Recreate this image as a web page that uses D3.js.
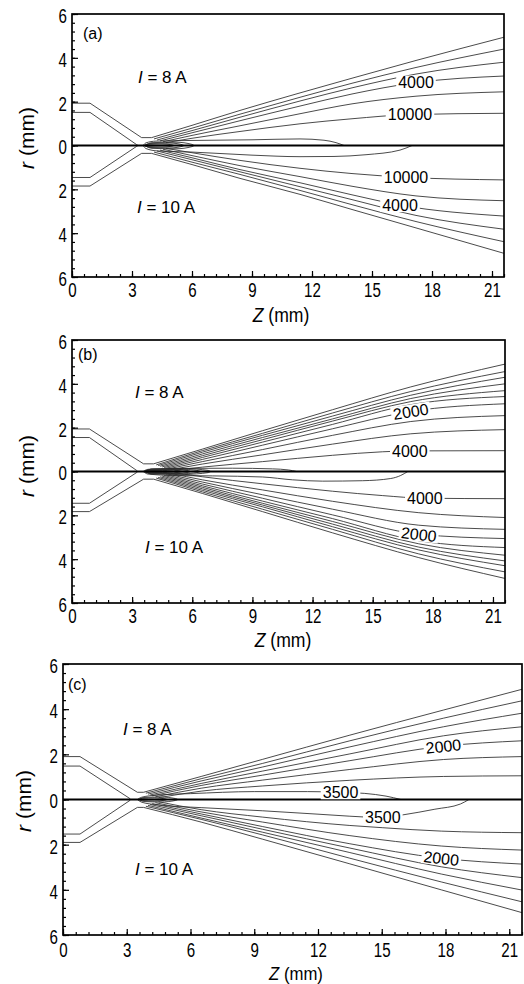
<!DOCTYPE html>
<html><head><meta charset="utf-8">
<script src="https://cdn.jsdelivr.net/npm/d3@7"></script>
<style>
body{margin:0;background:#fff}
svg{display:block}
text{font-family:"Liberation Sans",Arial,Helvetica,sans-serif;fill:#000}
</style>
</head><body>
<svg id="chart" width="524" height="984"></svg>
<script>
// ---------- axis ticks ----------
const zTicks = [0,3,6,9,12,15,18,21];
const rTicks = [-6,-4,-2,0,2,4,6];
const zMinor = d3.range(0, 21.601, 0.6);
const rMinor = d3.range(-6, 6.001, 0.4);
const zDomain = [0, 21.6];
const rDomain = [-6, 6];
const panelTags = ['(a)','(b)','(c)'];
const upperCurrent = '8 A';
const lowerCurrent = '10 A';

// ---------- panel (a) : [Z mm, r mm] ----------
const aNozzleUpper = [
  [[0,1.93],[0.9,1.93],[3.48,0.36],[3.98,0.36]],
  [[0,1.51],[0.9,1.51],[3.23,0.04],[3.3,0]]
];
const aNozzleLower = [
  [[0,1.85],[0.9,1.85],[3.48,0.36],[3.98,0.36]],
  [[0,1.46],[0.9,1.46],[3.23,0.04],[3.3,0]]
];
const aUpper = [
  [[3.98,0.36],[6,0.92],[8.4,1.6],[11.4,2.4],[14,3.07],[17.2,3.88],[21.6,4.94]],
  [[4.1,0.3],[6,0.79],[8.4,1.43],[11.4,2.2],[14,2.84],[17.2,3.56],[21.6,4.40]],
  [[4.25,0.25],[6,0.68],[8.4,1.29],[11.4,2.03],[14,2.63],[17.2,3.26],[21.6,3.80]],
  [[4.4,0.21],[6,0.58],[8.4,1.13],[11.4,1.8],[14,2.35],[17.2,2.87],[21.6,3.17]],
  [[4.55,0.17],[6,0.46],[8.4,0.9],[11.4,1.45],[14,1.9],[17.2,2.25],[21.6,2.45]],
  [[4.7,0.13],[6,0.33],[8.4,0.64],[11.4,0.99],[14,1.22],[16.9,1.41],[21.6,1.47]]
];
const aLower = [
  [[3.98,0.36],[6,0.87],[8.4,1.5],[11.4,2.23],[14,2.92],[17.2,3.76],[21.6,4.92]],
  [[4.1,0.3],[6,0.76],[8.4,1.32],[11.4,2.05],[14,2.7],[17.2,3.47],[21.6,4.39]],
  [[4.25,0.25],[6,0.65],[8.4,1.2],[11.4,1.88],[14,2.47],[17.2,3.19],[21.6,3.82]],
  [[4.4,0.21],[6,0.56],[8.4,1.1],[11.4,1.7],[14,2.25],[16.4,2.72],[21.6,3.22]],
  [[4.55,0.17],[6,0.46],[8.4,0.92],[11.4,1.42],[14,1.86],[17.2,2.3],[21.6,2.52]],
  [[4.7,0.13],[6,0.33],[8.4,0.68],[11.4,1.04],[14,1.28],[16.7,1.45],[21.6,1.57]]
];
const aUpperLoops = [
  [[3.55,0],[3.7,0.12],[4.2,0.2],[6,0.23],[9,0.26],[11.4,0.3],[12.6,0.24],[13.2,0.13],[13.6,0]]
];
const aLowerLoops = [
  [[3.55,0],[3.7,0.14],[4.3,0.25],[6,0.3],[9,0.44],[11.4,0.51],[13.1,0.5],[14.7,0.42],[16.4,0.21],[17.0,0]]
];
const aTipLoops = [
  [[3.6,0],[3.8,0.05],[4.5,0.07],[5.0,0.03],[5.1,0]],
  [[3.62,0],[3.9,0.09],[4.9,0.11],[5.5,0.04],[5.6,0]],
  [[3.65,0],[4.0,0.13],[5.2,0.15],[6.0,0.05],[6.1,0]]
];
// [half, set, index, Z, text, follow line slope]
const aLabels = [
  ['u','fan',3,17.2,'4000',0],
  ['u','fan',5,16.9,'10000',0],
  ['l','fan',3,16.4,'4000',0],
  ['l','fan',5,16.7,'10000',0]
];

// ---------- panel (b) ----------
const bNozzleUpper = [
  [[0,1.94],[0.87,1.94],[3.57,0.35],[4.07,0.35]],
  [[0,1.55],[0.87,1.55],[3.22,0.05],[3.28,0]]
];
const bNozzleLower = [
  [[0,1.83],[0.87,1.83],[3.57,0.35],[4.07,0.35]],
  [[0,1.45],[0.87,1.45],[3.22,0.05],[3.28,0]]
];
const bUpper = [
  [[4.07,0.35],[6.5,1.02],[9.5,1.86],[13,2.82],[16.9,3.86],[21.6,4.90]],
  [[4.2,0.3],[6.5,0.95],[9.5,1.74],[13,2.67],[16.9,3.65],[21.6,4.56]],
  [[4.3,0.27],[6.5,0.88],[9.5,1.65],[13,2.53],[16.9,3.48],[21.6,4.30]],
  [[4.4,0.24],[6.5,0.8],[9.5,1.55],[13,2.4],[16.9,3.33],[21.6,4.0]],
  [[4.5,0.21],[6.5,0.72],[9.5,1.45],[13,2.3],[16.9,3.19],[21.6,3.69]],
  [[4.6,0.18],[6.5,0.64],[9.5,1.34],[13,2.15],[16.9,3.05],[21.6,3.42]],
  [[4.7,0.15],[6.5,0.55],[9.5,1.2],[13,1.95],[16.9,2.74],[21.6,3.09]],
  [[4.8,0.12],[6.5,0.45],[9.5,1.0],[13,1.65],[16.9,2.28],[21.6,2.55]],
  [[4.95,0.09],[6.5,0.34],[9.5,0.76],[13,1.25],[16.9,1.72],[21.6,1.91]],
  [[5.1,0.06],[6.5,0.2],[9.5,0.45],[13,0.74],[15.5,0.9],[16.9,0.94],[21.6,0.95]]
];
const bLower = [
  [[4.07,0.35],[6.5,1.0],[9.5,1.83],[13,2.8],[17.3,3.93],[21.6,4.88]],
  [[4.2,0.3],[6.5,0.93],[9.5,1.72],[13,2.64],[17.3,3.76],[21.6,4.58]],
  [[4.3,0.27],[6.5,0.86],[9.5,1.61],[13,2.52],[17.3,3.58],[21.6,4.30]],
  [[4.4,0.24],[6.5,0.79],[9.5,1.53],[13,2.4],[17.3,3.45],[21.6,4.08]],
  [[4.5,0.21],[6.5,0.72],[9.5,1.45],[13,2.28],[17.3,3.3],[21.6,3.82]],
  [[4.6,0.18],[6.5,0.65],[9.5,1.35],[13,2.15],[17.3,3.16],[21.6,3.47]],
  [[4.7,0.15],[6.5,0.57],[9.5,1.22],[13,1.98],[17.3,2.86],[21.6,3.06]],
  [[4.8,0.12],[6.5,0.48],[9.5,1.06],[13,1.72],[17.3,2.45],[21.6,2.64]],
  [[4.95,0.09],[6.5,0.38],[9.5,0.84],[13,1.36],[17.3,1.88],[21.6,2.10]],
  [[5.1,0.06],[6.5,0.24],[9.5,0.56],[13,0.9],[15.5,1.1],[17.6,1.22],[21.6,1.24]]
];
const bUpperLoops = [
  [[3.55,0],[3.8,0.1],[5,0.14],[8,0.15],[10,0.12],[10.8,0.07],[11.2,0]]
];
const bLowerLoops = [
  [[3.55,0],[3.8,0.12],[5,0.18],[7,0.2],[9.5,0.25],[11,0.38],[12.5,0.44],[14.5,0.42],[15.9,0.32],[16.4,0.18],[16.75,0]]
];
const bTipLoops = [
  [[3.58,0],[3.8,0.04],[4.5,0.05],[5.0,0.02],[5.1,0]],
  [[3.6,0],[3.85,0.06],[4.8,0.07],[5.4,0.03],[5.5,0]],
  [[3.62,0],[3.9,0.08],[5.0,0.09],[5.8,0.04],[5.9,0]],
  [[3.64,0],[3.95,0.1],[5.3,0.11],[6.3,0.04],[6.4,0]],
  [[3.66,0],[4.0,0.12],[5.6,0.13],[6.8,0.05],[6.9,0]]
];
const bLabels = [
  ['u','fan',6,16.9,'2000',1],
  ['u','fan',9,16.85,'4000',0],
  ['l','fan',6,17.3,'2000',1],
  ['l','fan',9,17.6,'4000',0]
];

// ---------- panel (c) ----------
const cNozzleUpper = [
  [[0,1.9],[0.8,1.9],[3.5,0.32],[3.79,0.32]],
  [[0,1.48],[0.8,1.48],[3.15,0.04],[3.19,0]]
];
const cNozzleLower = [
  [[0,1.9],[0.8,1.9],[3.5,0.35],[3.79,0.35]],
  [[0,1.53],[0.8,1.53],[3.15,0.04],[3.19,0]]
];
const cUpper = [
  [[3.79,0.32],[6.5,1.02],[9.4,1.78],[13.5,2.85],[17.9,3.96],[21.6,4.88]],
  [[3.9,0.28],[6.5,0.92],[9.4,1.6],[13.5,2.6],[17.9,3.6],[21.6,4.37]],
  [[4.0,0.24],[6.5,0.82],[9.4,1.44],[13.5,2.33],[17.9,3.22],[21.6,3.82]],
  [[4.1,0.2],[6.5,0.71],[9.4,1.26],[13.5,2.02],[17.9,2.82],[21.6,3.22]],
  [[4.2,0.16],[6.5,0.62],[9.4,1.08],[13.5,1.72],[17.9,2.36],[21.6,2.60]],
  [[4.35,0.12],[6.5,0.5],[9.4,0.86],[13.5,1.33],[17.9,1.77],[21.6,1.90]],
  [[4.5,0.08],[6.5,0.37],[9.4,0.6],[13.5,0.85],[17.9,1.02],[21.6,1.05]]
];
const cLower = [
  [[3.79,0.35],[6.5,1.0],[9.4,1.76],[13.5,2.85],[17.8,4.0],[21.6,5.01]],
  [[3.9,0.3],[6.5,0.88],[9.4,1.57],[13.5,2.6],[17.8,3.65],[21.6,4.53]],
  [[4.0,0.26],[6.5,0.82],[9.4,1.45],[13.5,2.35],[17.8,3.3],[21.6,4.01]],
  [[4.1,0.22],[6.5,0.72],[9.4,1.32],[13.5,2.15],[17.8,2.98],[21.6,3.46]],
  [[4.2,0.18],[6.5,0.64],[9.4,1.2],[13.5,1.96],[17.8,2.60],[21.6,2.86]],
  [[4.35,0.14],[6.5,0.55],[9.4,1.0],[13.5,1.6],[17.8,2.06],[21.6,2.24]],
  [[4.5,0.1],[6.5,0.45],[9.4,0.78],[13.5,1.15],[15.05,1.25],[17.8,1.4],[21.6,1.47]]
];
const cUpperLoops = [
  [[3.5,0],[3.7,0.1],[4.5,0.2],[6,0.26],[9,0.35],[11.5,0.35],[13.06,0.32],[14.2,0.27],[15.2,0.15],[15.9,0]]
];
const cLowerLoops = [
  [[3.5,0],[3.7,0.12],[4.5,0.24],[6.5,0.36],[9.4,0.5],[12,0.65],[13.5,0.74],[15.05,0.8],[16,0.68],[17.5,0.43],[18.7,0.2],[19.1,0]]
];
const cTipLoops = [
  [[3.55,0],[3.75,0.05],[4.3,0.07],[4.8,0.03],[4.9,0]],
  [[3.58,0],[3.8,0.09],[4.6,0.11],[5.3,0.04],[5.4,0]]
];
const cLabels = [
  ['u','fan',4,17.9,'2000',1],
  ['u','loop',0,13.06,'3500',0],
  ['l','loop',0,15.05,'3500',0],
  ['l','fan',4,17.8,'2000',1]
];

// ---------- layout (pixels) ----------
const layout = [
  {x0:72, x1:504, y0:14,  y1:277, pad:5, titleX:281, titleY:322, rX:34, rY:138, tagX:83, tagY:39, i8:[138,83],  i10:[137,213]},
  {x0:72, x1:505, y0:340, y1:603, pad:5, titleX:283, titleY:647, rX:34, rY:466, tagX:78, tagY:360, i8:[135,398], i10:[145,553]},
  {x0:63, x1:522, y0:664, y1:935, pad:7, titleX:296, titleY:980, rX:31, rY:801, tagX:68, tagY:690, i8:[123,735], i10:[135,875]}
];
const panelData = [
  {nozU:aNozzleUpper, nozL:aNozzleLower, fanU:aUpper, fanL:aLower, loopU:aUpperLoops, loopL:aLowerLoops, tips:aTipLoops, labels:aLabels},
  {nozU:bNozzleUpper, nozL:bNozzleLower, fanU:bUpper, fanL:bLower, loopU:bUpperLoops, loopL:bLowerLoops, tips:bTipLoops, labels:bLabels},
  {nozU:cNozzleUpper, nozL:cNozzleLower, fanU:cUpper, fanL:cLower, loopU:cUpperLoops, loopL:cLowerLoops, tips:cTipLoops, labels:cLabels}
];

const svg = d3.select('#chart');
const LINE = '#2a2a2a';

function pointAtX(node, tx){
  let lo = 0, hi = node.getTotalLength();
  for (let i = 0; i < 40; i++){
    const mid = (lo + hi) / 2;
    if (node.getPointAtLength(mid).x < tx) lo = mid; else hi = mid;
  }
  return lo;
}

layout.forEach((L, pi) => {
  const D = panelData[pi];
  const x = d3.scaleLinear().domain(zDomain).range([L.x0, L.x1]);
  const y = d3.scaleLinear().domain(rDomain).range([L.y1, L.y0]);
  const g = svg.append('g');
  const clipId = 'clip' + pi;
  g.append('clipPath').attr('id', clipId).append('rect')
    .attr('x', L.x0).attr('y', L.y0).attr('width', L.x1 - L.x0).attr('height', L.y1 - L.y0);
  const plot = g.append('g').attr('clip-path', `url(#${clipId})`);

  const mk = (sign, curve) => d3.line().x(d => x(d[0])).y(d => y(sign * d[1])).curve(curve);
  const up = mk(1, d3.curveMonotoneX), dn = mk(-1, d3.curveMonotoneX);
  const upL = mk(1, d3.curveLinear), dnL = mk(-1, d3.curveLinear);

  const style = sel => sel.attr('fill', 'none').attr('stroke', LINE).attr('stroke-width', 0.85);

  D.nozU.forEach(p => style(plot.append('path').attr('d', upL(p))));
  D.nozL.forEach(p => style(plot.append('path').attr('d', dnL(p))));
  D.tips.forEach(p => { style(plot.append('path').attr('d', up(p))); style(plot.append('path').attr('d', dn(p))); });
  const paths = {u:{fan:[], loop:[]}, l:{fan:[], loop:[]}};
  D.fanU.forEach(p => paths.u.fan.push(style(plot.append('path').attr('d', up(p))).node()));
  D.fanL.forEach(p => paths.l.fan.push(style(plot.append('path').attr('d', dn(p))).node()));
  D.loopU.forEach(p => paths.u.loop.push(style(plot.append('path').attr('d', up(p))).node()));
  D.loopL.forEach(p => paths.l.loop.push(style(plot.append('path').attr('d', dn(p))).node()));

  // symmetry axis
  plot.append('line').attr('x1', L.x0).attr('x2', L.x1).attr('y1', y(0)).attr('y2', y(0))
    .attr('stroke', '#000').attr('stroke-width', 2);

  // contour labels
  D.labels.forEach(([half, set, idx, z, txt, follow]) => {
    const node = paths[half][set][idx];
    const len = pointAtX(node, x(z));
    const p = node.getPointAtLength(len);
    let ang = 0;
    if (follow) {
      const p1 = node.getPointAtLength(Math.max(0, len - 16));
      const p2 = node.getPointAtLength(Math.min(node.getTotalLength(), len + 16));
      ang = Math.atan2(p2.y - p1.y, p2.x - p1.x) * 180 / Math.PI;
    }
    const lg = g.append('g').attr('transform', `translate(${p.x},${p.y}) rotate(${ang})`);
    const rect = lg.append('rect').attr('fill', '#fff');
    const t = lg.append('text').attr('text-anchor', 'middle').attr('dy', '0.36em')
      .attr('font-size', 16).text(txt);
    const w = t.node().getComputedTextLength();
    rect.attr('x', -w / 2 - 2).attr('y', -7).attr('width', w + 4).attr('height', 14);
  });

  // frame
  g.append('rect').attr('x', L.x0).attr('y', L.y0).attr('width', L.x1 - L.x0).attr('height', L.y1 - L.y0)
    .attr('fill', 'none').attr('stroke', '#000').attr('stroke-width', 1.7);

  // axes (ticks inward)
  const xMaj = g.append('g').attr('transform', `translate(0,${L.y1})`)
    .call(d3.axisBottom(x).tickValues(zTicks).tickSize(-6).tickPadding(L.pad).tickFormat(d3.format('d')));
  const xMin = g.append('g').attr('transform', `translate(0,${L.y1})`)
    .call(d3.axisBottom(x).tickValues(zMinor).tickSize(-3).tickFormat(() => ''));
  const yMaj = g.append('g').attr('transform', `translate(${L.x0},0)`)
    .call(d3.axisLeft(y).tickValues(rTicks).tickSize(-6).tickPadding(5).tickFormat(d => Math.abs(d)));
  const yMin = g.append('g').attr('transform', `translate(${L.x0},0)`)
    .call(d3.axisLeft(y).tickValues(rMinor).tickSize(-3).tickFormat(() => ''));
  [xMaj, xMin, yMaj, yMin].forEach(a => {
    a.select('.domain').remove();
    a.selectAll('line').attr('stroke', '#000').attr('stroke-width', 1.2);
    a.selectAll('text').attr('font-size', 21).attr('fill', '#000')
      .attr('font-family', '"Liberation Sans",Arial,sans-serif');
  });
  xMaj.selectAll('text').attr('transform', 'scale(0.72,1)');
  yMaj.selectAll('text').attr('transform', 'scale(0.72,1)').attr('x', -5 / 0.72).attr('dy', '0.4em');

  // axis titles
  const zt = g.append('text').attr('transform', `translate(${L.titleX},${L.titleY}) scale(0.88,1)`)
    .attr('text-anchor', 'middle').attr('font-size', pi === 2 ? 19 : 20);
  zt.append('tspan').attr('font-style', 'italic').text('Z');
  zt.append('tspan').text(' (mm)');
  const rt = g.append('text').attr('transform', `translate(${L.rX},${L.rY}) rotate(-90)`)
    .attr('text-anchor', 'middle').attr('font-size', 21);
  rt.append('tspan').attr('font-style', 'italic').text('r');
  rt.append('tspan').text(' (mm)');

  // panel tag and current labels
  g.append('text').attr('x', L.tagX).attr('y', L.tagY).attr('font-size', 16).text(panelTags[pi]);
  [[L.i8, upperCurrent], [L.i10, lowerCurrent]].forEach(([pos, cur]) => {
    const t = g.append('text').attr('x', pos[0]).attr('y', pos[1]).attr('font-size', 17);
    t.append('tspan').attr('font-style', 'italic').text('I');
    t.append('tspan').text(' = ' + cur);
  });
});
</script>
</body></html>
